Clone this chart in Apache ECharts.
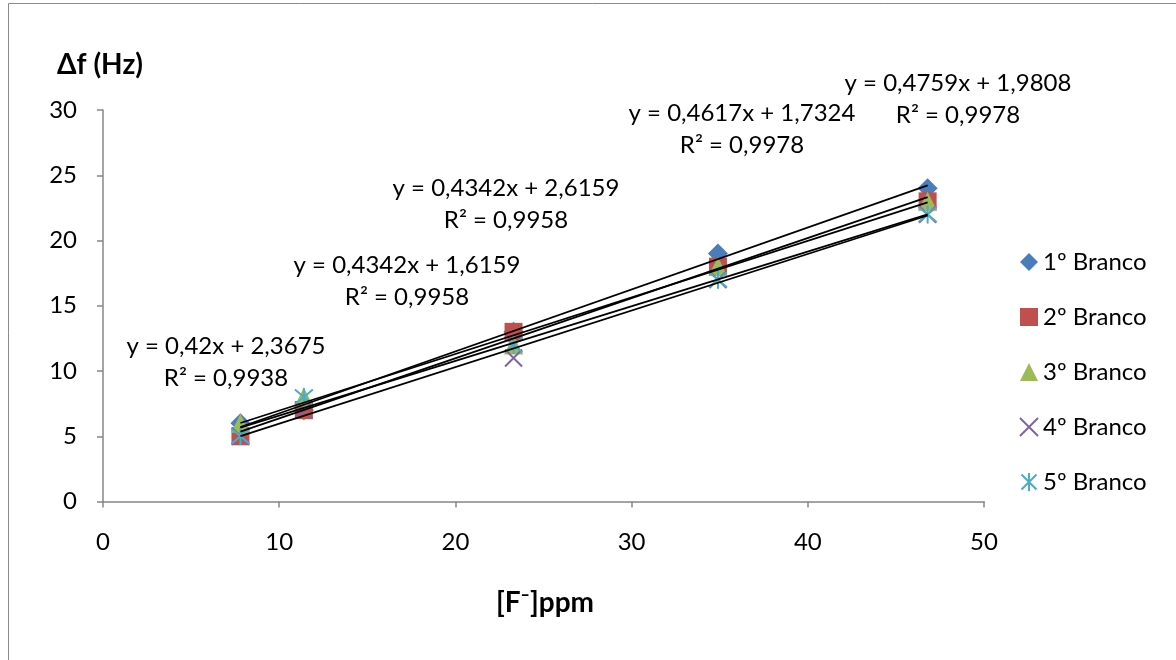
<!DOCTYPE html>
<html><head><meta charset="utf-8">
<script src="https://cdn.jsdelivr.net/npm/echarts@6/dist/echarts.min.js"></script>
<style>html,body{margin:0;padding:0;background:#fff}#c{width:1176px;height:660px}</style>
</head><body><div id="c"></div>
<script>
// ---- data ----
const concentrations = [7.8, 11.4, 23.3, 34.9, 46.8];
const seriesNames = ['1º Branco', '2º Branco', '3º Branco', '4º Branco', '5º Branco'];
const branco1 = [6, 7, 13, 19, 24];
const branco2 = [5, 7, 13, 18, 23];
const branco3 = [6, 8, 12, 18, 23];
const branco4 = [5, 7, 11, 17, 22];
const branco5 = [5, 8, 12, 17, 22];
const trendEquations = ['y = 0,4759x + 1,9808', 'y = 0,4617x + 1,7324', 'y = 0,4342x + 2,6159', 'y = 0,4342x + 1,6159', 'y = 0,42x + 2,3675'];
const trendR2 = ['R² = 0,9978', 'R² = 0,9978', 'R² = 0,9958', 'R² = 0,9958', 'R² = 0,9938'];
const xAxisRange = [0, 50, 10];
const yAxisRange = [0, 30, 5];
const yAxisTitle = 'Δf (Hz)';
const xAxisTitle = '[F⁻]ppm';

// ---- styling ----
const values = [branco1, branco2, branco3, branco4, branco5];
const colors = ['#4A7EBB', '#C0504D', '#9BBB59', '#8064A2', '#4BACC6'];
const symbols = ['diamond', 'rect', 'triangle', 'path://M0,0L10,10M10,0L0,10', 'path://M0,0L10,10M10,0L0,10M5,-1L5,11'];
const symbolSizes = [20, 18, 19, 17, 18];
const labelPos = [[958, 99], [742, 129], [506, 204], [407, 281], [226, 362]];
const FONT = 'Lato, "Open Sans", sans-serif';

function fit(xs, ys) {
  const n = xs.length;
  const mx = xs.reduce((a, b) => a + b, 0) / n;
  const my = ys.reduce((a, b) => a + b, 0) / n;
  let sxy = 0, sxx = 0;
  for (let i = 0; i < n; i++) { sxy += (xs[i] - mx) * (ys[i] - my); sxx += (xs[i] - mx) ** 2; }
  const b = sxy / sxx;
  return [b, my - b * mx];
}

const xmin = Math.min(...concentrations), xmax = Math.max(...concentrations);
const series = [];
values.forEach((ys, i) => {
  const isStroke = i >= 3;
  series.push({
    name: seriesNames[i],
    type: 'scatter',
    data: concentrations.map((x, k) => [x, ys[k]]),
    symbol: symbols[i],
    symbolSize: symbolSizes[i],
    itemStyle: isStroke ? { color: colors[i], borderColor: colors[i], borderWidth: 2, opacity: 1 } : { color: colors[i], opacity: 1 },
    z: 2
  });
});
values.forEach((ys, i) => {
  const [b, a] = fit(concentrations, ys);
  series.push({
    name: 'trend' + i,
    type: 'line',
    data: [[xmin, a + b * xmin], [xmax, a + b * xmax]],
    symbol: 'none',
    lineStyle: { color: '#000', width: 1.8 },
    z: 3,
    silent: true
  });
});

const graphic = [
  { type: 'rect', shape: { x: 8.5, y: 3.5, width: 1400, height: 900 }, style: { fill: 'none', stroke: '#8a8a8a', lineWidth: 1 }, silent: true },
  { type: 'text', x: 100, y: 65, style: { text: yAxisTitle, font: 'bold 28px ' + FONT, fill: '#000', textAlign: 'center', textVerticalAlign: 'middle' } },
  { type: 'text', x: 545, y: 603, style: { text: xAxisTitle, font: 'bold 28px ' + FONT, fill: '#000', textAlign: 'center', textVerticalAlign: 'middle' } }
];
trendEquations.forEach((t, i) => {
  graphic.push({ type: 'text', x: labelPos[i][0], y: labelPos[i][1],
    style: { text: t + '\n' + trendR2[i], font: '24px ' + FONT, lineHeight: 32, fill: '#000', textAlign: 'center', textVerticalAlign: 'middle' } });
});

const axisCommon = {
  type: 'value',
  axisLine: { show: true, onZero: false, lineStyle: { color: '#878787', width: 1.5 } },
  axisTick: { show: true, length: 6, lineStyle: { color: '#878787', width: 1.5 } },
  splitLine: { show: false },
  axisLabel: { color: '#000', fontSize: 24, fontFamily: FONT }
};

const chart = echarts.init(document.getElementById('c'), null, { renderer: 'canvas' });
chart.setOption({
  animation: false,
  backgroundColor: '#fff',
  grid: { left: 103, right: 192, top: 110, bottom: 158.5, containLabel: false },
  xAxis: Object.assign({}, axisCommon, { min: xAxisRange[0], max: xAxisRange[1], interval: xAxisRange[2],
    axisLabel: Object.assign({}, axisCommon.axisLabel, { margin: 29 }) }),
  yAxis: Object.assign({}, axisCommon, { min: yAxisRange[0], max: yAxisRange[1], interval: yAxisRange[2],
    axisLabel: Object.assign({}, axisCommon.axisLabel, { margin: 26 }) }),
  legend: {
    orient: 'vertical', left: 1019, top: 250, padding: 0, itemWidth: 18, itemHeight: 18, itemGap: 31,
    data: seriesNames.map((n, i) => ({ name: n, icon: symbols[i], itemStyle: i >= 3 ? { color: colors[i], borderColor: colors[i], borderWidth: 2 } : { color: colors[i] } })),
    textStyle: { color: '#000', fontSize: 24, fontFamily: FONT },
    selectedMode: false
  },
  graphic: graphic,
  series: series
});
</script>
</body></html>
